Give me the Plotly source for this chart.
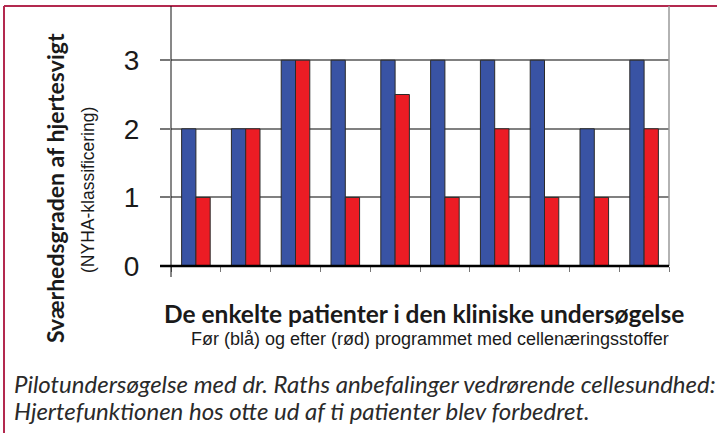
import plotly.graph_objects as go

patients = [str(i) for i in range(1, 11)]
before_blue = [2, 2, 3, 3, 3, 3, 3, 3, 2, 3]
after_red = [1, 2, 3, 1, 2.5, 1, 2, 1, 1, 2]
y_ticks = [0, 1, 2, 3]

W, H = 717, 433
L, R, T, B = 171, 48, 6, 167
PW, PH = W - L - R, H - T - B


def px(x):
    return (x - L) / PW


def py(y):
    return (H - B - y) / PH


fig = go.Figure()
fig.add_bar(x=patients, y=before_blue, name="Før",
            marker=dict(color="#3953a4", line=dict(color="#2a2a2a", width=1)))
fig.add_bar(x=patients, y=after_red, name="Efter",
            marker=dict(color="#ec1c24", line=dict(color="#2a2a2a", width=1)))

shapes = [
    # crimson frame
    dict(type="line", xref="paper", yref="paper", x0=px(4), x1=px(W + 5), y0=py(6), y1=py(6),
         line=dict(color="#b3294f", width=2)),
    dict(type="line", xref="paper", yref="paper", x0=px(4), x1=px(4), y0=py(6), y1=py(H + 5),
         line=dict(color="#b3294f", width=2)),
    # right plot edge
    dict(type="line", xref="paper", yref="paper", x0=1, x1=1, y0=0, y1=1,
         line=dict(color="#9a9a9a", width=1.5)),
    # y axis line (extends below zero)
    dict(type="line", xref="paper", yref="paper", x0=0, x1=0, y0=py(277), y1=1,
         line=dict(color="#111111", width=1)),
    # zero line
    dict(type="line", xref="paper", yref="paper", x0=px(160), x1=1, y0=0, y1=0,
         line=dict(color="#000000", width=2.5)),
]


def ann(text, x, y, family, size, color="#1a1a1a", angle=0, xanchor="center"):
    return dict(text=text, x=px(x), y=py(y), xref="paper", yref="paper",
                xanchor=xanchor, yanchor="middle", textangle=angle, showarrow=False,
                font=dict(family=family, size=size, color=color))


annotations = [
    ann("<b>Sværhedsgraden af hjertesvigt</b>", 55, 188, "Lato", 23, angle=-90),
    ann("(NYHA-klassificering)", 88, 190, "Liberation Sans", 17.5, angle=-90),
    ann("<b>De enkelte patienter i den kliniske undersøgelse</b>", 424, 313, "Lato", 24.5),
    ann("Før (blå) og efter (rød) programmet med cellenæringsstoffer", 430, 339,
        "Liberation Sans", 18),
    ann("<i>Pilotundersøgelse med dr. Raths anbefalinger vedrørende cellesundhed:</i>",
        12, 383, "Lato", 24, color="#2a2a2a", xanchor="left"),
    ann("<i>Hjertefunktionen hos otte ud af ti patienter blev forbedret.</i>",
        12, 410, "Lato", 24, color="#2a2a2a", xanchor="left"),
]

fig.update_layout(
    width=W, height=H,
    margin=dict(l=L, r=R, t=T, b=B, pad=0),
    paper_bgcolor="white", plot_bgcolor="white",
    barmode="group", bargap=0.426, bargroupgap=0,
    showlegend=False,
    shapes=shapes,
    annotations=annotations,
    xaxis=dict(type="category", showticklabels=False, ticks="outside", tickson="boundaries",
               ticklen=5, tickcolor="#777777", tickwidth=1, showgrid=False, showline=False,
               zeroline=False),
    yaxis=dict(range=[0, 3.79], tickvals=y_ticks, ticktext=[str(v) for v in y_ticks],
               ticks="outside", ticklen=10, tickcolor="#777777", tickwidth=1.5,
               showgrid=True, gridcolor="#808080", gridwidth=1.5, zeroline=False, showline=False,
               tickfont=dict(family="Liberation Sans Narrow, Liberation Sans", size=28,
                             color="#1a1a1a"),
               ticklabelstandoff=15, automargin=False),
)

fig.write_html("out.html", config={"displayModeBar": False},
               post_script="document.body.style.margin='0';document.body.style.padding='0';")
